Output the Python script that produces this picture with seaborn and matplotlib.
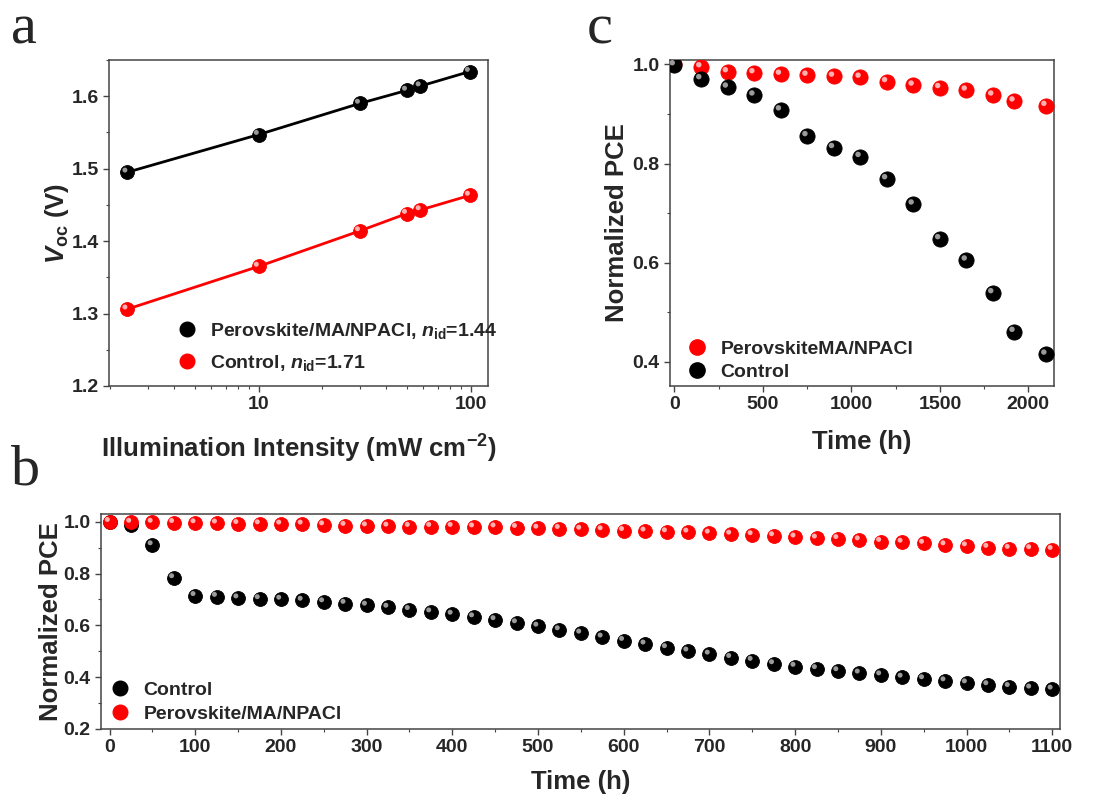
import numpy as np
import pandas as pd
import matplotlib
matplotlib.use("Agg")
import matplotlib.pyplot as plt
import matplotlib.transforms as mtransforms
from matplotlib.ticker import MultipleLocator, FixedLocator, NullFormatter, FuncFormatter, LogLocator
import seaborn as sns

# ---------------- data ----------------
# panel a
intensity = [2.4, 10, 30, 50, 58, 99]
voc_pero = [1.495, 1.547, 1.590, 1.608, 1.614, 1.634]
voc_ctrl = [1.306, 1.365, 1.414, 1.438, 1.443, 1.463]
label_a_pero = r"Perovskite/MA/NPACl, $n_{\rm id}$=1.44"
label_a_ctrl = r"Control, $n_{\rm id}$=1.71"

# panel b
time_b = list(range(0, 1101, 25))
pce_b_ctrl = [1.000, 0.987, 0.910, 0.783, 0.714, 0.711, 0.705, 0.702, 0.700, 0.696,
              0.690, 0.684, 0.677, 0.669, 0.660, 0.651, 0.642, 0.632, 0.621, 0.609,
              0.596, 0.582, 0.569, 0.554, 0.541, 0.527, 0.513, 0.500, 0.488, 0.475,
              0.464, 0.451, 0.441, 0.432, 0.424, 0.415, 0.408, 0.399, 0.393, 0.385,
              0.377, 0.370, 0.363, 0.357, 0.353]
pce_b_pero = [1.000, 0.997, 0.997, 0.996, 0.995, 0.994, 0.992, 0.991, 0.990, 0.990,
              0.987, 0.985, 0.983, 0.982, 0.981, 0.981, 0.981, 0.979, 0.979, 0.977,
              0.974, 0.973, 0.970, 0.968, 0.965, 0.963, 0.960, 0.959, 0.955, 0.951,
              0.949, 0.945, 0.940, 0.936, 0.934, 0.929, 0.923, 0.920, 0.916, 0.910,
              0.906, 0.900, 0.896, 0.895, 0.892]
label_b_ctrl = "Control"
label_b_pero = "Perovskite/MA/NPACl"

# panel c
time_c = [0, 150, 300, 450, 600, 750, 900, 1050, 1200, 1350, 1500, 1650, 1800, 1920, 2100]
pce_c_pero = [1.000, 0.995, 0.985, 0.983, 0.980, 0.978, 0.976, 0.974, 0.965, 0.958,
              0.953, 0.948, 0.938, 0.926, 0.917]
pce_c_ctrl = [0.999, 0.971, 0.954, 0.938, 0.908, 0.856, 0.832, 0.814, 0.769, 0.718,
              0.648, 0.605, 0.539, 0.461, 0.415]
label_c_pero = "PerovskiteMA/NPACl"
label_c_ctrl = "Control"

# ---------------- style ----------------
sns.set_style("ticks")
plt.rcParams['font.family'] = ['Liberation Sans', 'DejaVu Sans']
plt.rcParams['font.weight'] = 'bold'
plt.rcParams['axes.labelweight'] = 'bold'
plt.rcParams['mathtext.fontset'] = 'custom'
plt.rcParams['mathtext.rm'] = 'Liberation Sans:bold'
plt.rcParams['mathtext.it'] = 'Liberation Sans:italic:bold'
plt.rcParams['mathtext.bf'] = 'Liberation Sans:bold'
plt.rcParams['axes.unicode_minus'] = True

SPINE = "#444444"
TICK_FS = 14
LAB_FS = 18.5
LEG_FS = 14

fig = plt.figure(figsize=(11.13, 8.0), dpi=100)
ax_a = fig.add_axes([0.0979, 0.5175, 0.3406, 0.4075])
ax_c = fig.add_axes([0.6020, 0.5175, 0.3450, 0.4075])
ax_b = fig.add_axes([0.0907, 0.0888, 0.8617, 0.2688])


def style_axes(ax):
    for s in ax.spines.values():
        s.set_color(SPINE)
        s.set_linewidth(1.1)
    ax.tick_params(which='both', direction='out', color=SPINE, top=False, right=False)
    ax.tick_params(which='major', length=4.5, width=1.0, labelsize=TICK_FS, pad=3)
    ax.tick_params(which='minor', length=2.5, width=0.8)
    for lab in ax.get_xticklabels() + ax.get_yticklabels():
        lab.set_fontweight('bold')


def spheres(ax, x, y, color, hl, s, label=None, z=3):
    sns.scatterplot(x=x, y=y, color=color, s=s, edgecolor=color, linewidth=0.6,
                    label=label, ax=ax, zorder=z, legend=False)
    off = mtransforms.offset_copy(ax.transData, fig=fig, x=-1.6, y=1.6, units='points')
    ax.scatter(x, y, s=s * 0.13, color=hl, edgecolors='none', transform=off,
               zorder=z + 0.1)


def sphere_handle(color, hl, ms):
    return plt.Line2D([], [], marker='o', ls='none', markersize=ms,
                      markerfacecolor=color, markeredgecolor=color)


RED, RED_HL = "#ff0000", "#ffb0b0"
BLK, BLK_HL = "#000000", "#9a9a9a"
LEG_KW = dict(frameon=False, handlelength=1.0, handletextpad=0.7, borderpad=0.0,
              borderaxespad=0.0)

# ---------------- panel a ----------------
sns.lineplot(x=intensity, y=voc_pero, color=BLK, lw=2, ax=ax_a, zorder=2)
sns.lineplot(x=intensity, y=voc_ctrl, color=RED, lw=2, ax=ax_a, zorder=2)
spheres(ax_a, intensity, voc_pero, BLK, BLK_HL, 100)
spheres(ax_a, intensity, voc_ctrl, RED, RED_HL, 100)
ax_a.set_xscale('log')
ax_a.set_xlim(1.97, 121)
ax_a.set_ylim(1.2, 1.65)
ax_a.xaxis.set_major_locator(FixedLocator([10, 100]))
ax_a.xaxis.set_major_formatter(FuncFormatter(lambda v, p: f"{v:g}"))
ax_a.xaxis.set_minor_locator(LogLocator(base=10, subs=np.arange(2, 10)))
ax_a.xaxis.set_minor_formatter(NullFormatter())
ax_a.yaxis.set_major_locator(MultipleLocator(0.1))
ax_a.yaxis.set_minor_locator(MultipleLocator(0.05))
ax_a.yaxis.set_major_formatter(FuncFormatter(lambda v, p: f"{v:.1f}"))
ax_a.set_xlabel(r"Illumination Intensity (mW cm$^{-2}$)", fontsize=LAB_FS, labelpad=14)
ax_a.set_ylabel(r"$V_{\rm oc}$ (V)", fontsize=LAB_FS, labelpad=0)
style_axes(ax_a)
h = [sphere_handle(BLK, BLK_HL, 10.5), sphere_handle(RED, RED_HL, 10.5)]
ax_a.legend(h, [label_a_pero, label_a_ctrl], loc='lower left',
            bbox_to_anchor=(0.18, 0.04), labelspacing=0.62,
            prop={'weight': 'bold', 'size': LEG_FS}, **LEG_KW)

# ---------------- panel c ----------------
spheres(ax_c, time_c, pce_c_pero, RED, RED_HL, 120, z=3)
spheres(ax_c, time_c, pce_c_ctrl, BLK, BLK_HL, 120, z=4)
ax_c.set_xlim(-25, 2145)
ax_c.set_ylim(0.351, 1.009)
ax_c.xaxis.set_major_locator(MultipleLocator(500))
ax_c.xaxis.set_minor_locator(MultipleLocator(250))
ax_c.yaxis.set_major_locator(MultipleLocator(0.2))
ax_c.yaxis.set_minor_locator(MultipleLocator(0.1))
ax_c.yaxis.set_major_formatter(FuncFormatter(lambda v, p: f"{v:.1f}"))
ax_c.set_xlabel("Time (h)", fontsize=LAB_FS, labelpad=12)
ax_c.set_ylabel("Normalized PCE", fontsize=LAB_FS, labelpad=2.5)
style_axes(ax_c)
h = [sphere_handle(RED, RED_HL, 11), sphere_handle(BLK, BLK_HL, 11)]
ax_c.legend(h, [label_c_pero, label_c_ctrl], loc='lower left',
            bbox_to_anchor=(0.045, 0.015), labelspacing=0.3,
            prop={'weight': 'bold', 'size': LEG_FS}, **LEG_KW)

# ---------------- panel b ----------------
spheres(ax_b, time_b, pce_b_ctrl, BLK, BLK_HL, 100, z=3)
spheres(ax_b, time_b, pce_b_pero, RED, RED_HL, 100, z=4)
ax_b.set_xlim(-10, 1109)
ax_b.set_ylim(0.2, 1.03)
ax_b.xaxis.set_major_locator(MultipleLocator(100))
ax_b.xaxis.set_minor_locator(MultipleLocator(50))
ax_b.yaxis.set_major_locator(MultipleLocator(0.2))
ax_b.yaxis.set_minor_locator(MultipleLocator(0.1))
ax_b.yaxis.set_major_formatter(FuncFormatter(lambda v, p: f"{v:.1f}"))
ax_b.set_xlabel("Time (h)", fontsize=LAB_FS, labelpad=10)
ax_b.set_ylabel("Normalized PCE", fontsize=LAB_FS, labelpad=0)
style_axes(ax_b)
h = [sphere_handle(BLK, BLK_HL, 10.5), sphere_handle(RED, RED_HL, 10.5)]
ax_b.legend(h, [label_b_ctrl, label_b_pero], loc='lower left',
            bbox_to_anchor=(0.01, 0.03), labelspacing=0.3,
            prop={'weight': 'bold', 'size': LEG_FS}, **LEG_KW)

# ---------------- panel letters ----------------
for txt, x, y in [("a", 0.010, 0.945), ("c", 0.527, 0.945), ("b", 0.010, 0.394)]:
    fig.text(x, y, txt, fontsize=42, family='Liberation Serif', fontweight='normal',
             va='baseline', ha='left')

fig.savefig("out.png", dpi=100)
